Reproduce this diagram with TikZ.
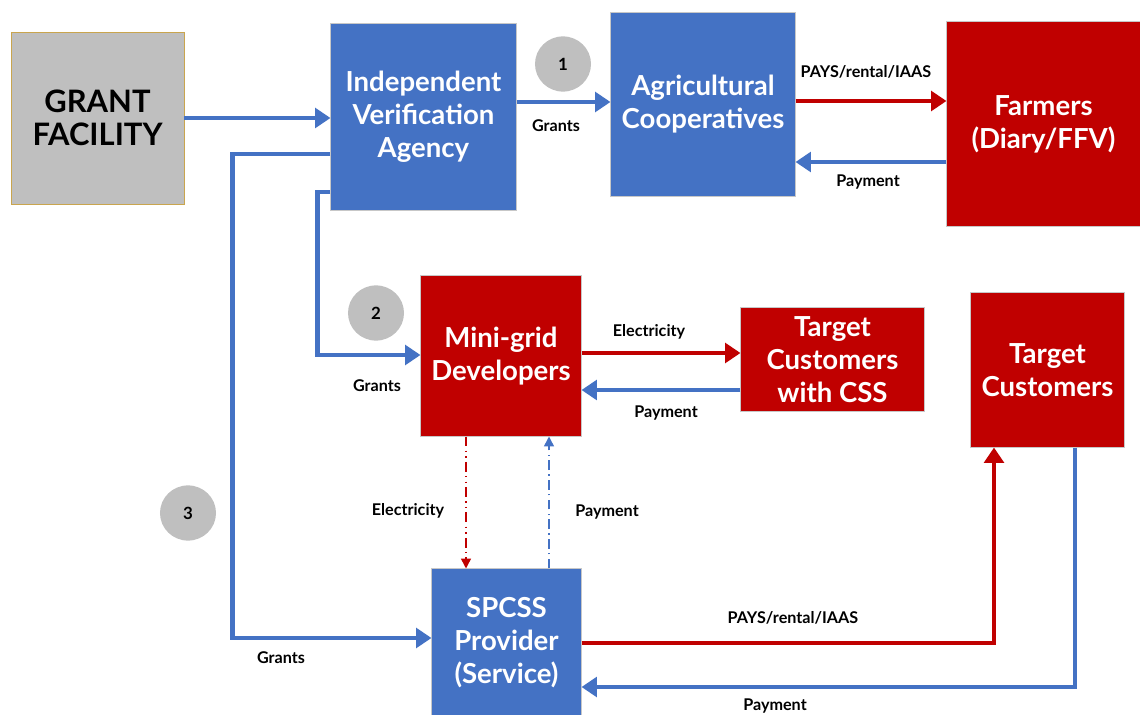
\documentclass[tikz,border=0pt]{standalone}
\usepackage{fontspec}
\setmainfont{Lato}
\usetikzlibrary{arrows.meta,shapes.geometric,calc}
\definecolor{fundblue}{HTML}{4472C4}
\definecolor{fundred}{HTML}{C00000}
\definecolor{fundgray}{HTML}{BFBFBF}
\definecolor{fundgold}{HTML}{C9A54E}

\begin{document}
\begin{tikzpicture}[x=0.025cm, y=-0.025cm,
  bluebox/.style={draw=black!22, line width=0.7pt, fill=fundblue, text=white, align=center,
    inner sep=0pt, font=\fontsize{19.6}{23.5}\selectfont\bfseries},
  redbox/.style={bluebox, fill=fundred},
  numdot/.style={ellipse, fill=fundgray, inner sep=0pt, minimum width=1.4cm, minimum height=1.38cm,
    font=\fontsize{12}{14}\selectfont\bfseries},
  lbl/.style={inner sep=0pt, font=\fontsize{11.5}{13}\selectfont\bfseries},
  flow/.style={line width=2.9pt, -{Triangle[length=11pt,width=14pt]}},
  bflow/.style={flow, draw=fundblue},
  rflow/.style={flow, draw=fundred},
  bdash/.style={line width=1.1pt, draw=fundblue, dash pattern=on 7pt off 3pt on 1pt off 3pt,
    -{Triangle[length=7pt,width=7pt]}},
  rdash/.style={line width=1.1pt, draw=fundred, dash pattern=on 7pt off 3pt on 1pt off 3pt on 1pt off 3pt,
    -{Triangle[length=7pt,width=7pt]}}
]
  \useasboundingbox (0,0) rectangle (1140,715);
  % Caixas
  \node[draw=fundgold, fill=fundgray, align=center, inner sep=0pt, minimum width=4.325cm,
    minimum height=4.3cm, font=\fontsize{22}{23.5}\selectfont\bfseries] (gf) at (97.5,118) {GRANT\\FACILITY};
  \node[bluebox, minimum width=4.625cm, minimum height=4.65cm] (iva) at (423.5,117)
    {Independent\\Verification\\Agency};
  \node[bluebox, minimum width=4.6cm, minimum height=4.575cm] (coop) at (703,104.5)
    {Agricultural\\Cooperatives};
  \node[redbox, minimum width=4.825cm, minimum height=5.1cm] (farm) at (1043.5,124)
    {Farmers\\(Diary/FFV)};
  \node[redbox, minimum width=4cm, minimum height=4cm] (mg) at (501,356) {Mini-grid\\Developers};
  \node[redbox, minimum width=4.575cm, minimum height=2.575cm] (tcss) at (832.5,359.5)
    {Target\\Customers\\with CSS};
  \node[redbox, minimum width=3.825cm, minimum height=3.85cm] (tc) at (1047.5,370)
    {Target\\Customers};
  \node[bluebox, minimum width=3.725cm, minimum height=3.7cm] (spcss) at (506.5,643)
    {SPCSS\\Provider\\(Service)};
  % Numeros
  \node[numdot] (n1) at (563,64) {1};
  \node[numdot] (n2) at (376,313) {2};
  \node[numdot] (n3) at (188,513) {3};
  % Setas
  \draw[bflow] (gf.east) coordinate (g0) -- (g0 -| iva.west);
  \draw[bflow] ($(iva.east)+(0,-15)$) coordinate (g1) -- (g1 -| coop.west);
  \draw[rflow] ($(coop.east)+(0,-3.5)$) coordinate (c1) -- (c1 -| farm.west);
  \draw[bflow] ($(farm.west)+(0,38)$) coordinate (f1) -- (f1 -| coop.east);
  \draw[bflow] ($(iva.west)+(0,75)$) -- ++(-13,0) |- ($(mg.west)+(0,-1)$);
  \draw[bflow] ($(iva.west)+(0,37)$) -- ++(-98,0) |- ($(spcss.west)+(0,-5)$);
  \draw[rflow] ($(mg.east)+(0,-3)$) coordinate (m1) -- (m1 -| tcss.west);
  \draw[bflow] ($(tcss.west)+(0,30.5)$) coordinate (t1) -- (t1 -| mg.east);
  \draw[rdash] ($(mg.south)+(-35,0)$) coordinate (m2) -- (m2 |- spcss.north);
  \draw[bdash] ($(spcss.north)+(42.5,0)$) coordinate (s1) -- (s1 |- mg.south);
  \draw[rflow] (spcss.east) -| ($(tc.south)+(-53.5,0)$);
  \draw[bflow] ($(tc.south)+(27.5,0)$) |- ($(spcss.east)+(0,44)$);
  % Legendas
  \node[lbl] (lg1) at (556,126) {Grants};
  \node[lbl] (lp1) at (866,72) {PAYS/rental/IAAS};
  \node[lbl] (lm1) at (868,182) {Payment};
  \node[lbl] (lg2) at (377,386) {Grants};
  \node[lbl] (le2) at (649,332) {Electricity};
  \node[lbl] (lm2) at (666,413) {Payment};
  \node[lbl] (le3) at (408,511) {Electricity};
  \node[lbl] (lm3) at (607,512) {Payment};
  \node[lbl] (lg3) at (281,658) {Grants};
  \node[lbl] (lp3) at (793,618) {PAYS/rental/IAAS};
  \node[lbl] (lm4) at (775,706) {Payment};
\end{tikzpicture}
\end{document}
